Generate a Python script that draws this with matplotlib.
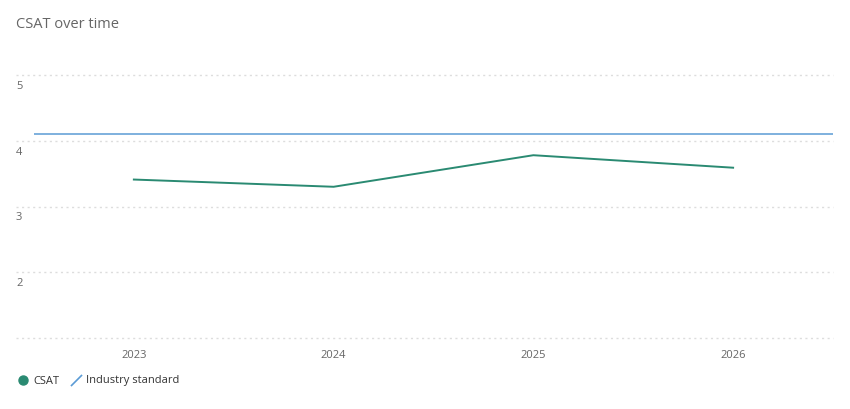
import matplotlib
matplotlib.use("Agg")
import matplotlib.pyplot as plt
from matplotlib.lines import Line2D
from matplotlib.transforms import blended_transform_factory

plt.rcParams['font.family'] = ['Open Sans', 'DejaVu Sans']

years = ["2023", "2024", "2025", "2026"]
csat = [3.41, 3.30, 3.78, 3.59]
industry_standard = 4.1
y_ticks = [1, 2, 3, 4, 5]
y_labels = ["", "2", "3", "4", "5"]

green = "#2a8a72"
blue = "#5b9bd5"
grey_text = "#666666"

W, H = 850, 409
fig = plt.figure(figsize=(W / 100, H / 100), dpi=100)
left_px, right_px, top_px, bottom_px = 16, 833, 75, 338
ax = fig.add_axes([left_px / W, (H - bottom_px) / H,
                   (right_px - left_px) / W, (bottom_px - top_px) / H])
x = list(range(len(years)))
ax.set_xlim(-0.5 - 18 / 200, len(years) - 0.5)
ax.set_ylim(1, 5)
for s in ax.spines.values():
    s.set_visible(False)
ax.set_yticks([])
ax.set_xticks(x)
ax.set_xticklabels(years, color=grey_text, fontsize=8)
ax.tick_params(axis='x', length=0, pad=9)

for t in y_ticks:
    ax.axhline(t, color="#dddddd", lw=1, ls=(0, (1.5, 2.5)), clip_on=False, zorder=0)
trans = blended_transform_factory(ax.transAxes, ax.transData)
for t, lab in zip(y_ticks, y_labels):
    if lab:
        ax.text(0, t - 0.09, lab, transform=trans, ha='left', va='top', fontsize=8,
                color=grey_text)

ax.hlines(industry_standard, -0.5, len(years) - 0.5, color=blue, lw=1.1, zorder=2)
ax.plot(x, csat, color=green, lw=1.4, zorder=3)

fig.text(16 / W, 1 - 24 / H, "CSAT over time", fontsize=10.5, color=grey_text,
         ha='left', va='center')

handles = [
    Line2D([], [], marker='o', color=green, ls='none', markersize=6.5),
    Line2D([], [], marker=[(-1, -1), (1, 1)], color=blue, ls='none',
           markersize=8, markeredgewidth=1.2),
]
fig.legend(handles, ["CSAT", "Industry standard"], loc='center left',
           bbox_to_anchor=(6 / W, 1 - 381 / H), ncol=2, frameon=False,
           fontsize=8, handletextpad=0.35, columnspacing=0.9, handlelength=1.2,
           labelcolor="#333333")

fig.savefig("out.png", dpi=100)
